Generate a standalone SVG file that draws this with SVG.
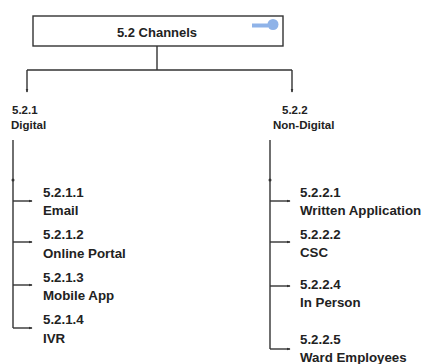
<svg xmlns="http://www.w3.org/2000/svg" width="426" height="364" viewBox="0 0 426 364">
<defs>
<marker id="dot" viewBox="0 0 6 6" refX="5" refY="3" markerWidth="4" markerHeight="4" orient="auto" markerUnits="userSpaceOnUse">
<path d="M0,1 L6,3 L0,5 Z" fill="#333"/>
</marker>
<style>
.t{font-family:"Liberation Sans",Arial,sans-serif;font-weight:bold;fill:#222}
.i{font-size:13.3px}
.s{font-size:11.5px}
.c{stroke:#333;stroke-width:1.4;fill:none}
</style>
</defs>
<rect width="426" height="364" fill="#fff"/>
<g id="root">
<rect x="33" y="16" width="250" height="30" fill="#fff" stroke="#333" stroke-width="1.4"/>
<text class="t" x="157" y="37" font-size="13" text-anchor="middle">5.2 Channels</text>
<line x1="252" y1="25.5" x2="268" y2="25.5" stroke="#8fb3e8" stroke-width="4"/>
<circle cx="273" cy="24.5" r="5.5" fill="#8fb3e8"/>
</g>
<g id="connectors">
<path class="c" d="M157,46 V70 M27,70 H292"/>
<path class="c" d="M27,70 V92" marker-end="url(#dot)"/>
<path class="c" d="M292,70 V92" marker-end="url(#dot)"/>
<path class="c" d="M13,140 V328"/>
<path class="c" d="M270,140 V349"/>
<path class="c" d="M13,201 H32" marker-end="url(#dot)"/>
<path class="c" d="M13,242 H32" marker-end="url(#dot)"/>
<path class="c" d="M13,285 H32" marker-end="url(#dot)"/>
<path class="c" d="M13,328 H32" marker-end="url(#dot)"/>
<path class="c" d="M270,201 H290" marker-end="url(#dot)"/>
<path class="c" d="M270,242 H290" marker-end="url(#dot)"/>
<path class="c" d="M270,286 H290" marker-end="url(#dot)"/>
<path class="c" d="M270,349 H290" marker-end="url(#dot)"/>
<circle cx="13" cy="180" r="1.5" fill="#333"/>
<circle cx="270" cy="180" r="1.5" fill="#333"/>
</g>
<g id="digital">
<text class="t s" x="12" y="114">5.2.1</text>
<text class="t s" x="11" y="129">Digital</text>
</g>
<g id="nondigital">
<text class="t s" x="282" y="114">5.2.2</text>
<text class="t s" x="273" y="129">Non-Digital</text>
</g>
<g id="email"><text class="t i" x="43" y="197">5.2.1.1</text><text class="t i" x="43" y="215">Email</text></g>
<g id="portal"><text class="t i" x="43" y="239">5.2.1.2</text><text class="t i" x="43" y="258">Online Portal</text></g>
<g id="mobile"><text class="t i" x="43" y="282">5.2.1.3</text><text class="t i" x="43" y="300">Mobile App</text></g>
<g id="ivr"><text class="t i" x="43" y="324">5.2.1.4</text><text class="t i" x="43" y="343">IVR</text></g>
<g id="written"><text class="t i" x="300" y="197">5.2.2.1</text><text class="t i" x="300" y="215">Written Application</text></g>
<g id="csc"><text class="t i" x="300" y="239">5.2.2.2</text><text class="t i" x="300" y="257">CSC</text></g>
<g id="person"><text class="t i" x="300" y="289">5.2.2.4</text><text class="t i" x="300" y="307">In Person</text></g>
<g id="ward"><text class="t i" x="300" y="344">5.2.2.5</text><text class="t i" x="300" y="362">Ward Employees</text></g>
</svg>
